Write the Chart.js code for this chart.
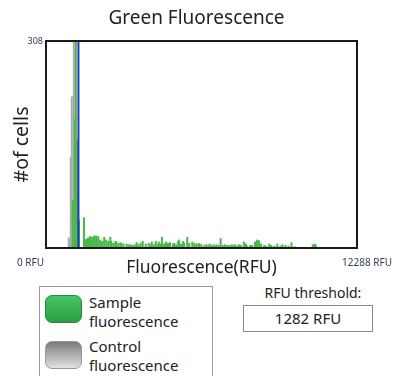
<!DOCTYPE html>
<html>
<head>
<meta charset="utf-8">
<script src="https://cdn.jsdelivr.net/npm/chart.js@4"></script>
<style>
  body { margin: 0; background: #fff; font-family: "Noto Sans", "DejaVu Sans", sans-serif; color: #222; }
  #wrap { position: relative; width: 393px; height: 376px; overflow: hidden; }
  #myChart { position: absolute; left: 0; top: 0; }
  .legend { position: absolute; left: 39px; top: 286px; width: 174px; height: 110px; border: 1.5px solid #9a9a9a; box-sizing: border-box; }
  .swatch { position: absolute; left: 5px; width: 37px; height: 28px; border-radius: 7px; box-sizing: border-box; }
  .sw-green { top: 8px; background: linear-gradient(#45c463, #2d9f42); border: 1px solid #2a8a3a; }
  .sw-gray { top: 54px; background: linear-gradient(#7a7a7a, #e2e2e2); border: 1px solid #999; }
  .ltext { position: absolute; left: 49px; font-size: 15px; line-height: 19px; }
  .thr-label { position: absolute; left: 243px; width: 140px; top: 283px; text-align: center; font-size: 14px; }
  .thr-box { position: absolute; left: 243px; top: 305px; width: 130px; height: 27px; border: 1.5px solid #8a8a8a; box-sizing: border-box; text-align: center; font-size: 15px; line-height: 24px; }
</style>
</head>
<body>
<div id="wrap">
  <canvas id="myChart" width="393" height="282"></canvas>
  <div class="legend">
    <div class="swatch sw-green"></div>
    <div class="ltext" style="top:6px">Sample<br>fluorescence</div>
    <div class="swatch sw-gray"></div>
    <div class="ltext" style="top:50px">Control<br>fluorescence</div>
  </div>
  <div class="thr-label">RFU threshold:</div>
  <div class="thr-box">1282 RFU</div>
</div>
<script>
const binWidth = 40;          // RFU per histogram bin
const xMax = 12288;
const yMax = 308;
const thresholdRFU = 1282;

// control (gray) histogram
const controlBins = [22, 24, 25, 27];
const controlCounts = [15, 135, 225, 400];

// sample (green) histogram
const sampleBins = [
    26, 28, 29, 30, 31, 32, 37, 39, 41, 43, 45, 47, 49, 51, 53, 55, 57, 59, 61, 63,
    64, 66, 68, 69, 71, 73, 74, 76, 79, 81, 83, 85, 87, 89, 91, 93, 95, 98, 101, 103,
    104, 106, 108, 110, 111, 113, 114, 116, 118, 120, 122, 125, 126, 128, 130, 131, 133, 135, 136, 139,
    141, 144, 146, 148, 150, 151, 153, 156, 158, 160, 161, 163, 165, 167, 168, 170, 172, 174, 176, 178,
    180, 182, 183, 185, 186, 188, 190, 192, 195, 197, 198, 201, 203, 206, 208, 210, 212, 215, 217, 220,
    222, 225, 228, 231, 233, 236, 239, 242, 245, 248, 252, 256, 260, 263, 265, 266
];
const sampleCounts = [
    71, 192, 420, 161, 86, 42, 45, 13, 15, 17, 16, 18, 18, 17, 12, 10, 16, 12, 10, 16,
    10, 7, 10, 9, 7, 8, 7, 6, 6, 5, 5, 4, 5, 8, 5, 7, 10, 6, 7, 5,
    9, 5, 10, 5, 9, 6, 16, 6, 9, 7, 8, 6, 7, 5, 10, 12, 6, 10, 7, 16,
    7, 9, 7, 6, 6, 7, 5, 4, 5, 3, 6, 4, 5, 3, 5, 4, 14, 4, 5, 4,
    4, 3, 5, 4, 5, 3, 5, 4, 9, 6, 3, 4, 4, 9, 12, 11, 6, 4, 3, 6,
    4, 3, 6, 3, 5, 4, 3, 8, 2, 1, 1, 1, 1, 5, 6, 4
];

const toPoints = (bins, counts) => bins.map((b, i) => ({ x: (b + 0.5) * binWidth, y: counts[i] }));

const frame = {
    id: 'frame',
    afterDraw(chart) {
        const { ctx, chartArea: a, scales } = chart;
        ctx.save();
        ctx.strokeStyle = '#1a1a1a';
        ctx.lineWidth = 2;
        ctx.strokeRect(a.left, a.top, a.right - a.left, a.bottom - a.top);
        ctx.fillStyle = '#2f3d5c';
        ctx.font = '10px "Noto Sans", sans-serif';
        ctx.textBaseline = 'middle';
        ctx.textAlign = 'right';
        ctx.fillText('0 RFU', scales.x.getPixelForValue(0) - 2, 263);
        ctx.textAlign = 'center';
        ctx.fillText(xMax + ' RFU', scales.x.getPixelForValue(xMax) + 10, 263);
        ctx.restore();
    }
};

const data = {
    datasets: [{
        type: 'bar',
        label: 'Control fluorescence',
        data: toPoints(controlBins, controlCounts),
        backgroundColor: '#a9a9a9',
        barThickness: 1.4,
        grouped: false,
        order: 3
    }, {
        type: 'bar',
        label: 'Sample fluorescence',
        data: toPoints(sampleBins, sampleCounts),
        backgroundColor: '#4ab84a',
        barThickness: 1.4,
        grouped: false,
        order: 2
    }, {
        type: 'line',
        label: 'RFU threshold',
        data: [{ x: thresholdRFU, y: 0 }, { x: thresholdRFU, y: yMax }],
        borderColor: '#2236c4',
        borderWidth: 2,
        pointRadius: 0,
        order: 1
    }]
};

const config = {
    type: 'bar',
    data: data,
    options: {
        responsive: false,
        animation: false,
        layout: { padding: 0 },
        plugins: {
            legend: { display: false },
            tooltip: { enabled: false },
            title: {
                display: true,
                text: 'Green Fluorescence',
                color: '#222',
                font: { family: '"Noto Sans", sans-serif', size: 19, weight: 'normal', lineHeight: 1.2 },
                padding: { top: 7, bottom: 11.2 }
            }
        },
        scales: {
            x: {
                type: 'linear',
                min: 0,
                max: xMax,
                offset: false,
                grid: { display: false, offset: false },
                border: { display: false },
                ticks: { display: false },
                title: {
                    display: true,
                    text: 'Fluorescence(RFU)',
                    color: '#222',
                    font: { family: '"Noto Sans", sans-serif', size: 17.5, lineHeight: 1.2 },
                    padding: { top: 0, bottom: 3 }
                },
                afterFit(scale) { scale.height = 282 - 248; }
            },
            y: {
                min: 0,
                max: yMax,
                grid: { display: false, drawTicks: false },
                border: { display: false },
                afterBuildTicks(scale) { scale.ticks = [{ value: yMax }]; },
                ticks: {
                    color: '#2f3d5c',
                    padding: 3,
                    font: { family: '"Noto Sans", sans-serif', size: 9 }
                },
                title: {
                    display: true,
                    text: '#of cells',
                    color: '#222',
                    font: { family: '"Noto Sans", sans-serif', size: 19.5, lineHeight: 1.2 },
                    padding: { top: 11, bottom: 0 }
                },
                afterFit(scale) { scale.width = 46; }
            },
            y2: {
                position: 'right',
                display: true,
                grid: { display: false, drawTicks: false },
                border: { display: false },
                ticks: { display: false },
                afterFit(scale) { scale.width = 36; }
            }
        }
    },
    plugins: [frame]
};

var myChart = new Chart(
    document.getElementById('myChart'),
    config
);
</script>
</body>
</html>
